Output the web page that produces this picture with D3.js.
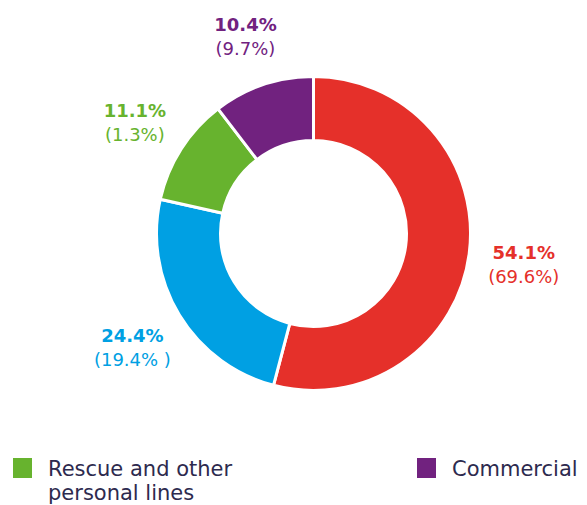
<html>
<script src="https://d3js.org/d3.v7.min.js"></script>
<style>
    body {margin: 0; background: #fff;}
    text {font-family: "DejaVu Sans", sans-serif;}
    .big {font-weight: bold; font-size: 18px;}
    .small {font-size: 18px;}
    .legend text {font-size: 21px; fill: #2d2a4e;}
</style>
<body>
<svg width=587 height=505></svg>
<script>
// slice shares (current year) and previous year in brackets
const shares = [54.1, 24.4, 11.1, 10.4];
const shareLabels = ["54.1%", "24.4%", "11.1%", "10.4%"];
const priorLabels = ["(69.6%)", "(19.4% )", "(1.3%)", "(9.7%)"];
const colors = ["#e5302a", "#00a0e3", "#67b32e", "#71227f"];

// legend (only the visible part)
const legendNames = [["Rescue and other", "personal lines"], ["Commercial"]];
const legendColors = ["#67b32e", "#71227f"];

const svg = d3.select('svg');
const cx = 313.5, cy = 233.5;
const outerR = 157, innerR = 93;

const pie = d3.pie().sort(null).value(d => d);
const arcs = pie(shares);

const arc = d3.arc().innerRadius(innerR).outerRadius(outerR);
const labelArc = d3.arc().innerRadius(212).outerRadius(212);

const g = svg.append('g').attr('transform', `translate(${cx},${cy})`);

g.selectAll('path')
    .data(arcs)
    .enter()
    .append('path')
    .attr('d', arc)
    .attr('fill', (d, i) => colors[i])
    .attr('stroke', '#fff')
    .attr('stroke-width', 3);

const lab = g.selectAll('g.lab')
    .data(arcs)
    .enter()
    .append('g')
    .attr('class', 'lab')
    .attr('transform', d => `translate(${labelArc.centroid(d)})`);

lab.append('text')
    .attr('class', 'big')
    .attr('text-anchor', 'middle')
    .attr('y', -2)
    .attr('fill', (d, i) => colors[i])
    .text((d, i) => shareLabels[i]);

lab.append('text')
    .attr('class', 'small')
    .attr('text-anchor', 'middle')
    .attr('y', 22)
    .attr('fill', (d, i) => colors[i])
    .text((d, i) => priorLabels[i]);

// legend
const legX = d3.scalePoint().domain([0, 1]).range([13, 417]);
const leg = svg.append('g')
    .attr('class', 'legend')
    .selectAll('g')
    .data(legendNames)
    .enter()
    .append('g')
    .attr('transform', (d, i) => `translate(${legX(i)},458)`);

leg.append('rect')
    .attr('width', 19)
    .attr('height', 20)
    .attr('fill', (d, i) => legendColors[i]);

leg.each(function(lines) {
    const t = d3.select(this).append('text').attr('x', 35).attr('y', 18);
    lines.forEach((s, j) => {
        t.append('tspan').attr('x', 35).attr('dy', j === 0 ? 0 : 24).text(s);
    });
});
</script>
</body>
</html>
